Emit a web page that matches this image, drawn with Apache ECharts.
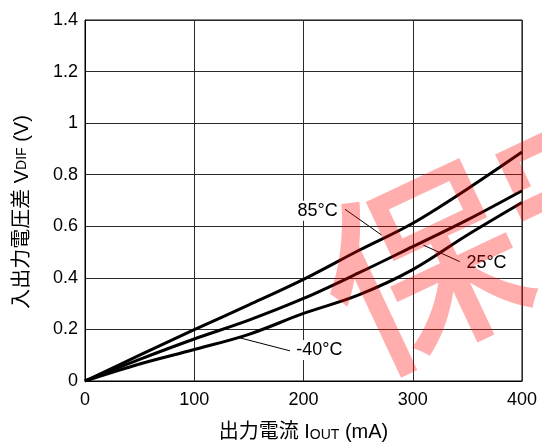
<!DOCTYPE html>
<html>
<head>
<meta charset="utf-8">
<script src="https://cdn.jsdelivr.net/npm/echarts@6/dist/echarts.min.js"></script>
<style>
  html, body { margin: 0; padding: 0; background: #fff; }
  #chart { width: 542px; height: 443px; }
</style>
</head>
<body>
<div id="chart"></div>
<script>
// Output current (mA) sample points
const currents = [0, 50, 100, 150, 200, 250, 300, 350, 400];
// Input-output voltage difference (V) at each temperature
const vdif85 = [0, 0.100, 0.199, 0.295, 0.394, 0.505, 0.612, 0.745, 0.888];
const vdif25 = [0, 0.084, 0.163, 0.236, 0.320, 0.418, 0.521, 0.625, 0.738];
const vdifM40 = [0, 0.066, 0.122, 0.181, 0.262, 0.333, 0.432, 0.566, 0.692];

const xTicks = [0, 100, 200, 300, 400];
const yTicks = [0, 0.2, 0.4, 0.6, 0.8, 1, 1.2, 1.4];

// Curve annotations: label text, label centre, leader line [from, to] in data units
const notes = [
  { text: '85°C', at: [213, 0.660], from: [238, 0.666], to: [271.5, 0.566] },
  { text: '25°C', at: [367.5, 0.459], from: [309.7, 0.527], to: [343, 0.463] },
  { text: '-40°C', at: [214.5, 0.120], from: [140.3, 0.169], to: [187.6, 0.117] }
];

const FONT = '"Liberation Sans", Arial, sans-serif';
const CJK = '"Liberation Sans", "Noto Sans CJK JP", sans-serif';

function pairs(ys) { return currents.map((x, i) => [x, ys[i]]); }

function curve(name, ys, note) {
  return {
    name: name,
    type: 'line',
    data: pairs(ys),
    smooth: 0.35,
    showSymbol: false,
    symbol: 'none',
    lineStyle: { color: '#000', width: 3 },
    z: 5,
    markLine: {
      silent: true,
      symbol: 'none',
      label: { show: false },
      lineStyle: { color: '#000', width: 1, type: 'solid' },
      data: [[{ coord: note.from }, { coord: note.to }]],
      z: 4
    },
    markPoint: {
      silent: true,
      symbol: 'circle',
      symbolSize: 0,
      data: [{
        coord: note.at,
        label: {
          show: true,
          position: 'inside',
          formatter: note.text,
          color: '#000',
          fontFamily: FONT,
          fontSize: 18,
          backgroundColor: '#fff',
          padding: [1, 2]
        }
      }],
      z: 6
    }
  };
}

const chart = echarts.init(document.getElementById('chart'), null, { renderer: 'canvas' });

chart.setOption({
  animation: false,
  backgroundColor: '#fff',
  grid: {
    left: 85, right: 20, top: 20, bottom: 62,
    outerBoundsMode: 'none',
    containLabel: false,
    show: true, borderColor: '#000', borderWidth: 1
  },
  xAxis: {
    type: 'value',
    min: xTicks[0], max: xTicks[xTicks.length - 1], interval: 100,
    axisLine: { show: true, lineStyle: { color: '#000', width: 1 } },
    axisTick: { show: false },
    splitLine: { show: true, lineStyle: { color: '#2a2a2a', width: 1 } },
    axisLabel: {
      color: '#000', fontFamily: FONT, fontSize: 18, margin: 10,
      formatter: v => String(v)
    },
    name: '出力電流 I{s|OUT} (mA)',
    nameLocation: 'middle',
    nameGap: 41,
    nameTextStyle: {
      color: '#000', fontFamily: CJK, fontSize: 20,
      rich: { s: { fontFamily: FONT, fontSize: 14, color: '#000', verticalAlign: 'bottom' } }
    }
  },
  yAxis: {
    type: 'value',
    min: yTicks[0], max: yTicks[yTicks.length - 1], interval: 0.2,
    axisLine: { show: true, lineStyle: { color: '#000', width: 1 } },
    axisTick: { show: false },
    splitLine: { show: true, lineStyle: { color: '#2a2a2a', width: 1 } },
    axisLabel: {
      color: '#000', fontFamily: FONT, fontSize: 18, margin: 7,
      formatter: v => String(Math.round(v * 10) / 10)
    }
  },
  graphic: [
    {
      type: 'text',
      x: 22, y: 212,
      rotation: Math.PI / 2,
      silent: true,
      style: {
        text: '入出力電圧差 V{s|DIF} (V)',
        fill: '#000',
        font: '20px ' + CJK,
        align: 'center',
        verticalAlign: 'middle',
        rich: { s: { fontFamily: FONT, fontSize: 14, fill: '#000' } }
      }
    },
    {
      // stamped overlay text
      type: 'text',
      x: 422, y: 267,
      rotation: 0.44,
      silent: true,
      z: 100,
      style: {
        text: '保守品',
        fill: 'rgba(255,0,0,0.32)',
        font: '500 198px "Noto Sans CJK JP"',
        align: 'left',
        verticalAlign: 'middle',
        x: -99
      }
    }
  ],
  series: [
    curve('85°C', vdif85, notes[0]),
    curve('25°C', vdif25, notes[1]),
    curve('-40°C', vdifM40, notes[2])
  ]
});
</script>
</body>
</html>
